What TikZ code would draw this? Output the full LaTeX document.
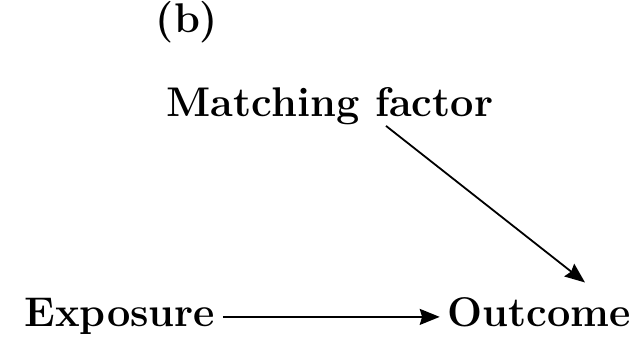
\documentclass[tikz,border=0pt]{standalone}
\usepackage{tikz}
\usetikzlibrary{arrows.meta}

\begin{document}
\begin{tikzpicture}[x=0.5pt,y=0.5pt,line width=0.9pt]
  \tikzset{var/.style={font=\huge\bfseries, anchor=base},
           >={Stealth[length=10pt,width=8pt,inset=1.2pt]}}
  \useasboundingbox (0,0) rectangle (644,338);
     % Label
  \node[var] (b) at (187,305) {(b)};
     % Variables
  \node[var] (mf) at (330,221) {Matching factor};
  \node[var] (exp) at (120,11) {Exposure};
  \node[var] (out) at (539,11) {Outcome};
     % Arrows
  \draw[->] (exp) -- (exp -| out.west);
  \draw[->] ([xshift=28pt,yshift=3.5pt]mf.south) -- ([xshift=23pt,yshift=4pt]out.north);
\end{tikzpicture}
\end{document}
